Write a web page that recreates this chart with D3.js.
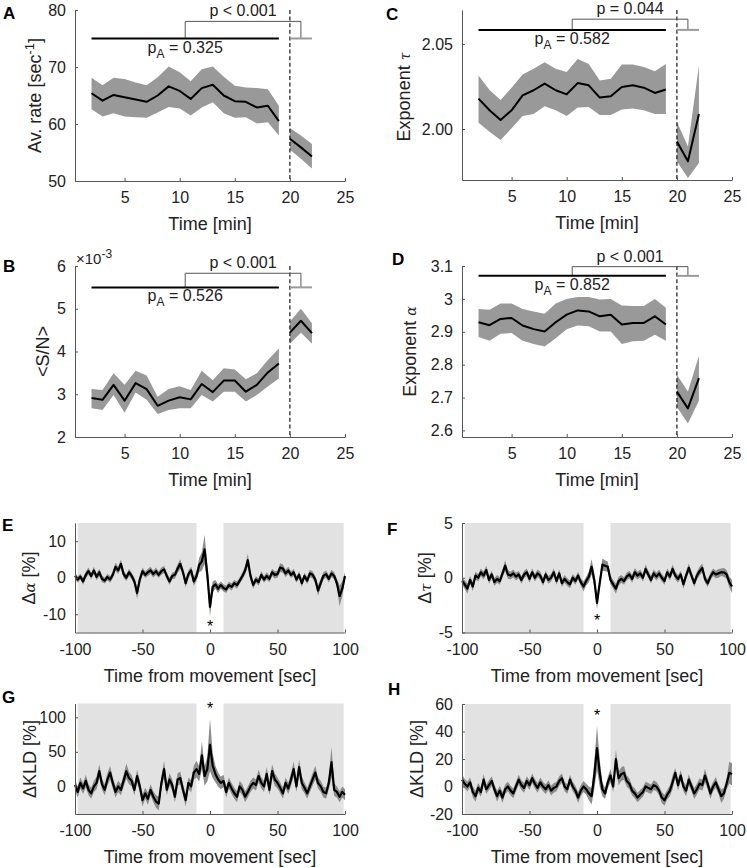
<!DOCTYPE html>
<html><head><meta charset="utf-8">
<script src="https://cdn.jsdelivr.net/npm/d3@7"></script>
<style>
body{margin:0;background:#fff}
svg{display:block}
</style>
</head><body>
<svg id="chart" width="747" height="868"></svg>
<script>
// ---------------- DATA ----------------
const minutesPre  = [2,3,4,5,6,7,8,9,10,11,12,13,14,15,16,17,18,19];
const minutesPost = [20,21,22];

// Panel A: average rate [1/sec]
const rateMeanPre  = [65.4,64.1,65.1,64.7,64.3,63.9,65.0,66.6,65.8,64.4,66.3,66.9,65.0,64.0,63.9,62.9,63.2,60.5];
const rateUpperPre = [68.1,66.8,68.1,67.9,67.3,66.8,68.2,70.1,69.1,67.5,69.6,70.1,68.3,66.7,66.4,66.3,66.1,63.2];
const rateLowerPre = [62.6,61.3,61.9,61.3,61.2,61.1,62.0,63.0,62.7,61.5,62.9,63.8,61.9,61.1,61.2,60.1,60.3,58.0];
const rateMeanPost  = [57.4,55.9,54.3];
const rateUpperPost = [59.3,58.0,56.5];
const rateLowerPost = [55.5,53.9,52.2];

// Panel B: <S/N> (x 10^-3)
const snMeanPre  = [2.91,2.87,3.22,2.85,3.26,3.12,2.73,2.85,2.93,2.88,3.24,3.05,3.32,3.32,3.06,3.22,3.51,3.72];
const snUpperPre = [3.12,3.10,3.49,3.22,3.55,3.44,2.94,3.12,3.19,3.10,3.55,3.33,3.61,3.58,3.35,3.49,3.80,4.07];
const snLowerPre = [2.67,2.63,2.98,2.57,3.04,2.87,2.54,2.63,2.67,2.67,2.98,2.83,3.06,3.06,2.83,2.98,3.18,3.37];
const snMeanPost  = [4.44,4.72,4.43];
const snUpperPost = [4.70,5.00,4.66];
const snLowerPost = [4.18,4.44,4.18];

// Panel C: exponent tau
const tauMeanPre  = [2.0179,2.0110,2.0053,2.0110,2.0198,2.0228,2.0267,2.0228,2.0204,2.0270,2.0257,2.0185,2.0193,2.0247,2.0257,2.0243,2.0212,2.0232];
const tauUpperPre = [2.0315,2.0230,2.0170,2.0243,2.0320,2.0354,2.0393,2.0354,2.0335,2.0412,2.0383,2.0286,2.0296,2.0380,2.0380,2.0364,2.0340,2.0383];
const tauLowerPre = [2.0037,1.9984,1.9936,2.0004,2.0076,2.0088,2.0134,2.0110,2.0076,2.0126,2.0130,2.0082,2.0082,2.0115,2.0121,2.0110,2.0088,2.0088];
const tauMeanPost  = [1.9926,1.9810,2.0088];
const tauUpperPost = [2.0043,1.9897,2.0374];
const tauLowerPost = [1.9810,1.9712,1.9800];

// Panel D: exponent alpha
const alphaMeanPre  = [2.929,2.920,2.939,2.942,2.919,2.908,2.901,2.929,2.952,2.965,2.962,2.947,2.952,2.922,2.927,2.927,2.947,2.922];
const alphaUpperPre = [2.969,2.967,2.986,2.986,2.969,2.962,2.955,2.986,3.000,3.006,3.006,2.998,3.000,2.980,2.978,2.978,3.000,2.973];
const alphaLowerPre = [2.884,2.873,2.894,2.896,2.873,2.863,2.855,2.880,2.908,2.919,2.917,2.901,2.901,2.863,2.871,2.873,2.891,2.873];
const alphaMeanPost  = [2.718,2.667,2.759];
const alphaUpperPost = [2.769,2.718,2.827];
const alphaLowerPost = [2.672,2.621,2.690];

// Statistics annotations
const statLevels = { A:[75,78], B:[5.5,5.83], C:[2.0583,2.0646], D:[3.07,3.098] };
const pTexts  = { A:"p < 0.001", B:"p < 0.001", C:"p = 0.044", D:"p < 0.001" };
const pAVals  = { A:"0.325", B:"0.526", C:"0.582", D:"0.852" };

// Movement-triggered traces (time from movement, sec)
const lagSec = [-100,-98,-96,-94,-92,-90,-88,-86,-84,-82,-80,-78,-76,-74,-72,-70,-68,-66,-64,-62,
  -60,-58,-56,-54,-52,-50,-48,-46,-44,-42,-40,-38,-36,-34,-32,-30,-28,-26,-24,-22,
  -20,-18,-16,-14,-12,-10,-8,-6,-4,-2,0,2,4,6,8,10,12,14,16,18,20,22,24,26,28,30,32,34,36,38,40,
  42,44,46,48,50,52,54,56,58,60,62,64,66,68,70,72,74,76,78,80,82,84,86,88,90,92,94,96,98,100];
const shadedWindows = [[-98,-10],[10,99]];

const dAlphaMean = [0.5,-0.5,0.3,-1.0,0.8,1.8,0.5,2.0,0.2,1.5,
 -0.3,-0.8,0.2,-0.5,0.8,3.0,2.0,3.8,1.0,0.0,
 1.5,0.5,-1.0,-4.2,-0.5,1.8,0.8,1.5,2.0,1.0,
 1.8,0.8,1.8,2.3,0.5,-1.0,0.5,0.8,2.5,3.8,
 1.5,-1.5,1.0,2.0,-1.0,0.5,3.5,4.5,7.8,1.0,
 -8.0,
 -2.5,-1.8,-3.0,-2.0,-2.8,-3.2,-2.0,-2.5,-1.5,-2.0,
 -0.8,0.5,2.0,4.8,0.5,-2.0,-0.5,-1.2,0.8,-0.5,
 0.5,-0.3,1.5,0.8,1.0,2.8,2.5,1.2,2.0,0.8,
 1.5,-0.5,0.8,-1.5,0.5,-0.8,1.2,0.8,-0.5,-3.5,
 -1.5,0.5,1.0,-0.3,1.2,0.5,-1.5,-5.0,-3.0,0.5];
const dAlphaSem = [0.8,0.9,0.8,0.9,1.0,1.0,0.9,1.0,0.9,1.0,
 0.9,0.8,0.9,0.9,1.0,1.1,1.0,1.2,1.0,0.9,
 1.0,0.9,1.0,1.6,1.0,1.0,0.9,1.0,1.0,0.9,
 1.0,0.9,1.0,1.0,0.9,1.0,0.9,1.0,1.2,1.3,
 1.1,1.2,1.0,1.1,1.2,1.3,2.0,2.5,4.0,2.5,
 2.6,
 1.5,1.2,1.2,1.0,1.0,1.0,0.9,1.0,0.9,1.0,
 0.9,1.0,1.2,1.8,1.2,1.0,0.9,1.0,1.0,0.9,
 1.0,0.9,1.0,1.0,1.0,1.2,1.1,1.0,1.0,0.9,
 1.0,0.9,1.0,1.0,0.9,1.0,1.0,1.0,1.0,1.4,
 1.2,1.0,1.0,1.0,1.0,1.0,1.2,2.8,2.0,1.0];

const dTauMean = [-0.3,-0.6,-1.0,-0.2,-0.8,0.2,0.0,0.5,0.2,0.7,
 -0.2,0.3,-0.4,-0.1,-0.3,0.4,1.1,0.3,0.2,0.4,
 0.1,0.3,-0.2,0.3,0.5,-0.1,0.5,0.0,0.4,0.2,
 -0.4,0.3,-0.2,0.0,0.5,-0.3,0.4,-0.5,-0.1,-0.4,
 -0.6,0.0,-0.3,0.2,-0.4,-0.8,-0.3,0.1,1.0,-0.2,
 -2.3,
 -0.5,1.2,1.1,1.0,-0.2,-0.6,-1.0,-0.3,-0.1,-0.3,
 0.1,0.3,-0.1,0.5,0.2,0.4,0.0,0.8,0.3,-0.2,
 0.4,0.1,0.4,0.0,-0.3,0.5,0.1,0.8,0.2,-0.1,
 0.3,-0.6,0.2,0.9,0.2,-0.5,0.2,0.6,0.9,-0.1,
 -0.5,0.1,0.5,0.3,0.4,0.5,0.5,0.3,-0.4,-0.8];
const dTauSem = [0.35,0.4,0.45,0.35,0.4,0.35,0.35,0.35,0.35,0.4,
 0.35,0.35,0.35,0.35,0.35,0.35,0.5,0.4,0.35,0.35,
 0.35,0.35,0.35,0.35,0.35,0.35,0.35,0.35,0.35,0.35,
 0.35,0.35,0.35,0.35,0.35,0.35,0.35,0.35,0.35,0.35,
 0.35,0.35,0.35,0.35,0.35,0.45,0.4,0.5,0.7,0.6,
 0.6,
 0.5,0.55,0.5,0.45,0.4,0.4,0.45,0.4,0.35,0.35,
 0.35,0.35,0.35,0.4,0.35,0.35,0.35,0.4,0.35,0.35,
 0.35,0.35,0.35,0.35,0.35,0.35,0.35,0.4,0.35,0.35,
 0.35,0.4,0.35,0.4,0.35,0.35,0.35,0.4,0.4,0.35,
 0.35,0.35,0.35,0.35,0.4,0.35,0.4,0.4,0.5,0.6];

const dKldGMean = [2,-8,5,-3,8,-5,-10,0,5,22,
 3,-5,10,20,5,-8,0,-5,8,22,
 12,8,-5,15,0,-20,-10,-18,-5,-15,
 -22,-25,5,25,-5,10,2,-15,10,12,
 -5,-20,5,0,20,25,18,45,15,25,
 60,
 30,18,10,5,8,-8,5,-3,-10,-15,
 0,-5,-15,-8,0,5,2,15,5,0,
 18,-5,22,10,5,-2,-10,5,-3,10,
 25,0,28,5,-2,-10,0,10,20,5,
 0,-8,-10,5,35,-5,-8,-15,-8,-12];
const dKldGSem = [8,8,8,8,9,8,8,8,9,10,
 8,8,9,10,8,8,8,8,9,11,
 9,8,8,9,8,9,8,9,8,8,
 9,10,9,12,8,9,8,8,9,9,
 8,9,8,9,10,12,11,20,14,18,
 38,
 18,12,10,9,9,8,8,8,8,8,
 8,8,8,8,8,8,8,9,8,8,
 10,8,10,9,8,8,8,8,8,9,
 11,8,11,9,8,8,8,9,10,8,
 8,8,8,9,22,9,8,8,8,8];

const dKldHMean = [5,2,0,3,-4,-7,-1,-4,5,-2,
 1,4,-2,-7,-3,-8,-2,0,-3,-5,
 0,5,1,-1,4,1,6,2,-1,3,
 0,-2,1,-3,-1,0,4,6,0,-2,
 5,0,-3,-8,-3,0,-2,-5,-7,8,
 28,
 10,-2,-5,3,8,0,20,6,9,10,
 4,2,-3,-5,-8,-6,-4,0,-1,-2,
 1,0,-3,-8,-10,-6,-3,3,10,1,
 8,0,-3,5,0,-5,-2,2,1,8,
 2,-5,0,3,-2,-7,-5,2,10,9];
const dKldHSem = [4,3.5,3.5,3.5,4,4,3.5,3.5,4,3.5,
 3.5,3.5,3.5,4,3.5,4,3.5,3.5,3.5,3.5,
 3.5,3.5,3.5,3.5,3.5,3.5,3.5,3.5,3.5,3.5,
 3.5,3.5,3.5,3.5,3.5,3.5,3.5,3.5,3.5,3.5,
 3.5,3.5,3.5,4,4,4,4,5,6,10,
 16,
 10,5,4,4,5,4,7,5,5,5,
 4,4,3.5,3.5,3.5,3.5,3.5,3.5,3.5,3.5,
 3.5,3.5,3.5,4,4,3.5,4,5,3.5,4,
 4,3.5,4,4,3.5,4,4,4,4,5,
 4,4,3.5,4,3.5,5,4,4,8,8];

// tick labels
const minuteTicks = [5,10,15,20,25];
const lagTicks = [-100,-50,0,50,100];

// ---------------- DRAWING ----------------
const FONT = '"Liberation Sans", Arial, Helvetica, sans-serif';
const svg = d3.select('#chart');
const AXC = '#555';
const TXT = '#222';

function drawAxes(g, x, y, xTicks, yTicks, yFmt) {
  const ax = g.append('g').attr('transform', `translate(0,${y.range()[0]})`)
    .call(d3.axisBottom(x).tickValues(xTicks).tickSizeInner(-3).tickSizeOuter(0).tickPadding(11).tickFormat(d => String(d)));
  const ay = g.append('g').attr('transform', `translate(${x.range()[0]},0)`)
    .call(d3.axisLeft(y).tickValues(yTicks).tickSizeInner(-3).tickSizeOuter(0).tickPadding(9).tickFormat(yFmt || (d => String(d))));
  [ax, ay].forEach(a => {
    a.select('.domain').attr('stroke', AXC).attr('stroke-width', 1);
    a.selectAll('.tick line').attr('stroke', AXC);
    a.selectAll('text').attr('font-size', 16).attr('fill', TXT).attr('font-family', FONT);
  });
}

function panelLabel(txt, px, py) {
  svg.append('text').attr('x', px).attr('y', py).text(txt)
    .attr('font-family', FONT).attr('font-weight', 'bold').attr('font-size', 17).attr('fill', '#000');
}

function xTitle(txt, cx, by) {
  svg.append('text').attr('x', cx).attr('y', by).attr('text-anchor', 'middle').text(txt)
    .attr('font-family', FONT).attr('font-size', 18).attr('fill', TXT);
}

function yTitle(bx, cy) {
  return svg.append('text').attr('transform', `translate(${bx},${cy}) rotate(-90)`)
    .attr('text-anchor', 'middle').attr('font-family', FONT).attr('font-size', 18).attr('fill', TXT);
}

function minutePanel(key, box, yDomain, yTicks, yFmt, pre, post) {
  const g = svg.append('g');
  const x = d3.scaleLinear().domain([0.5, 25]).range([box.l, box.r]);
  const y = d3.scaleLinear().domain(yDomain).range([box.b, box.t]);
  const area = d3.area().x(d => x(d.t)).y0(d => y(d.lo)).y1(d => y(d.hi));
  const line = d3.line().x(d => x(d.t)).y(d => y(d.m));
  [[minutesPre, pre], [minutesPost, post]].forEach(([ts, s]) => {
    const rows = ts.map((t, i) => ({t, m: s[0][i], hi: s[1][i], lo: s[2][i]}));
    g.append('path').attr('d', area(rows)).attr('fill', '#999').attr('stroke', 'none');
    g.append('path').attr('d', line(rows)).attr('fill', 'none').attr('stroke', '#000').attr('stroke-width', 2).attr('stroke-linejoin', 'round');
  });
  // dashed boundary at first post point
  g.append('line').attr('x1', x(minutesPost[0])).attr('x2', x(minutesPost[0]))
    .attr('y1', box.t).attr('y2', box.b).attr('stroke', '#000').attr('stroke-width', 1.1).attr('stroke-dasharray', '4,2.6');
  // statistics
  const [barV, topV] = statLevels[key];
  const preMid = d3.mean(d3.extent(minutesPre)), postMid = d3.mean(d3.extent(minutesPost));
  g.append('path').attr('d', `M${x(preMid)},${y(barV)}V${y(topV)}H${x(postMid)}V${y(barV)}`)
    .attr('fill', 'none').attr('stroke', '#555').attr('stroke-width', 1);
  g.append('line').attr('x1', x(minutesPre[0])).attr('x2', x(minutesPre[minutesPre.length-1]))
    .attr('y1', y(barV)).attr('y2', y(barV)).attr('stroke', '#000').attr('stroke-width', 2);
  g.append('line').attr('x1', x(minutesPost[0])).attr('x2', x(minutesPost[minutesPost.length-1]))
    .attr('y1', y(barV)).attr('y2', y(barV)).attr('stroke', '#9a9a9a').attr('stroke-width', 2);
  g.append('text').attr('x', (x(preMid) + x(postMid)) / 2).attr('y', y(topV) - 5).attr('text-anchor', 'middle')
    .attr('font-family', FONT).attr('font-size', 16).attr('fill', TXT).text(pTexts[key]);
  const pa = g.append('text').attr('x', x(preMid)).attr('y', y(barV) + 14).attr('text-anchor', 'middle')
    .attr('font-family', FONT).attr('font-size', 16).attr('fill', TXT);
  pa.append('tspan').text('p');
  pa.append('tspan').attr('dy', 5).attr('font-size', 12).text('A');
  pa.append('tspan').attr('dy', -5).text(' = ' + pAVals[key]);
  drawAxes(g, x, y, minuteTicks, yTicks, yFmt);
  xTitle('Time [min]', (box.l + box.r) / 2, box.b + 49);
  return {x, y};
}

function lagPanel(box, yDomain, yTicks, mean, sem, starAbove) {
  const g = svg.append('g');
  const x = d3.scaleLinear().domain([-100, 100]).range([box.l, box.r]);
  const y = d3.scaleLinear().domain(yDomain).range([box.b, box.t]);
  shadedWindows.forEach(([a, b]) => {
    g.append('rect').attr('x', x(a)).attr('width', x(b) - x(a)).attr('y', box.t).attr('height', box.b - box.t).attr('fill', '#e2e2e2');
  });
  const rows = lagSec.map((t, i) => ({t, m: mean[i], s: sem[i]}));
  g.append('path').attr('d', d3.area().x(d => x(d.t)).y0(d => y(d.m - d.s)).y1(d => y(d.m + d.s))(rows))
    .attr('fill', '#8c8c8c').attr('stroke', 'none');
  g.append('path').attr('d', d3.line().x(d => x(d.t)).y(d => y(d.m))(rows))
    .attr('fill', 'none').attr('stroke', '#000').attr('stroke-width', 2.2).attr('stroke-linejoin', 'round');
  drawAxes(g, x, y, lagTicks, yTicks);
  // significance star at movement time
  const i0 = lagSec.indexOf(0);
  const starY = starAbove ? y(mean[i0] + sem[i0]) - 5 : y(mean[i0] - sem[i0]) + 16;
  g.append('text').attr('x', x(0)).attr('y', starY).attr('text-anchor', 'middle')
    .attr('font-family', FONT).attr('font-size', 16).attr('fill', '#000').text('*');
  xTitle('Time from movement [sec]', (box.l + box.r) / 2, box.b + 49);
}

const L = {l: 75, r: 345}, R = {l: 462, r: 732};

// A
minutePanel('A', {...L, t: 10, b: 181}, [50, 80], [50, 60, 70, 80], null,
  [rateMeanPre, rateUpperPre, rateLowerPre], [rateMeanPost, rateUpperPost, rateLowerPost]);
panelLabel('A', 3, 19);
{ const t = yTitle(41, 95.5); t.append('tspan').text('Av. rate [sec');
  t.append('tspan').attr('dy', -7).attr('font-size', 13).text('-1');
  t.append('tspan').attr('dy', 7).text(']'); }

// C
minutePanel('C', {...R, t: 10, b: 180}, [1.97, 2.07], [2.00, 2.05], d3.format('.2f'),
  [tauMeanPre, tauUpperPre, tauLowerPre], [tauMeanPost, tauUpperPost, tauLowerPost]);
panelLabel('C', 386, 20);
{ const t = yTitle(410, 97); t.append('tspan').text('Exponent  ');
  t.append('tspan').attr('font-family', '"DejaVu Serif", serif').attr('font-style', 'italic').attr('font-size', 14).text('τ'); }

// B
minutePanel('B', {...L, t: 266, b: 437}, [2, 6], [2, 3, 4, 5, 6], null,
  [snMeanPre, snUpperPre, snLowerPre], [snMeanPost, snUpperPost, snLowerPost]);
panelLabel('B', 3, 272);
{ const t = yTitle(49, 351.5); t.text('<S/N>'); }
{ const t = svg.append('text').attr('x', 76).attr('y', 264).attr('font-family', FONT).attr('font-size', 15).attr('fill', TXT);
  t.append('tspan').text('×10');
  t.append('tspan').attr('dy', -6).attr('font-size', 12).text('-3'); }

// D
minutePanel('D', {...R, t: 266, b: 437}, [2.58, 3.1], [2.6, 2.7, 2.8, 2.9, 3, 3.1], null,
  [alphaMeanPre, alphaUpperPre, alphaLowerPre], [alphaMeanPost, alphaUpperPost, alphaLowerPost]);
panelLabel('D', 392, 265);
{ const t = yTitle(416, 351.5); t.append('tspan').text('Exponent  ');
  t.append('tspan').attr('font-family', '"DejaVu Serif", serif').attr('font-style', 'italic').attr('font-size', 14).text('α'); }

// E
lagPanel({...L, t: 523, b: 632.5}, [-15, 15], [-10, 0, 10], dAlphaMean, dAlphaSem, false);
panelLabel('E', 2, 531);
{ const t = yTitle(35, 578); t.append('tspan').text('Δ');
  t.append('tspan').attr('font-family', '"DejaVu Serif", serif').attr('font-style', 'italic').attr('font-size', 15).text('α');
  t.append('tspan').text(' [%]'); }

// F
lagPanel({...R, t: 523, b: 632.5}, [-5, 5], [-5, 0, 5], dTauMean, dTauSem, false);
panelLabel('F', 387, 535);
{ const t = yTitle(431, 578); t.append('tspan').text('Δ');
  t.append('tspan').attr('font-family', '"DejaVu Serif", serif').attr('font-style', 'italic').attr('font-size', 15).text('τ');
  t.append('tspan').text(' [%]'); }

// G
lagPanel({...L, t: 703.5, b: 814}, [-40, 120], [0, 50, 100], dKldGMean, dKldGSem, true);
panelLabel('G', 2, 703);
{ const t = yTitle(36, 759); t.text('ΔKLD [%]'); }

// H
lagPanel({...R, t: 704, b: 814}, [-20, 60], [-20, 0, 20, 40, 60], dKldHMean, dKldHSem, true);
panelLabel('H', 388, 695);
{ const t = yTitle(423, 759); t.text('ΔKLD [%]'); }
</script>
</body></html>
